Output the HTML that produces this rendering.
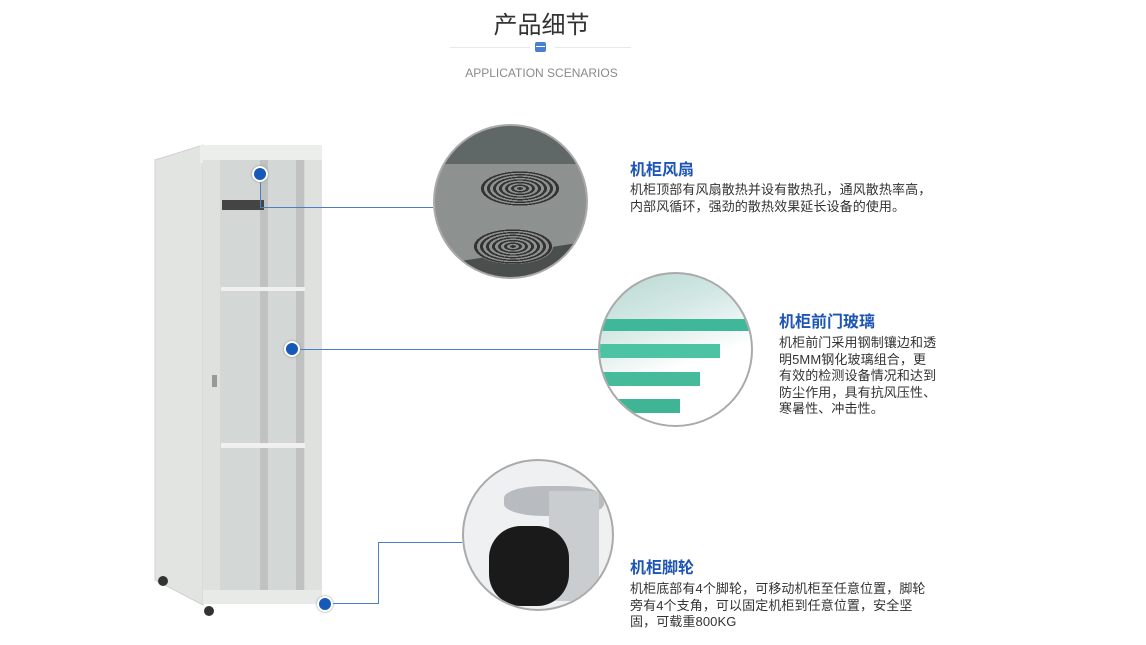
<!DOCTYPE html>
<html><head><meta charset="utf-8"><style>
body{margin:0;width:1146px;height:645px;background:#fff;position:relative;overflow:hidden;font-family:"Liberation Sans","Noto Sans CJK SC",sans-serif}
.a{position:absolute}
.t{color:#1d55b5;font-weight:bold;font-size:16px}
.p{color:#333;font-size:13px;line-height:16.5px;letter-spacing:0.1px}
.ln{background:#4a7fc8}
.dot{width:12px;height:12px;border-radius:50%;background:#1659b8;border:2px solid #fff;box-shadow:0 0 2px #888}
.circ{border-radius:50%;border:2px solid #aaa;overflow:hidden;box-sizing:border-box}
</style></head><body>
<div class="a" style="left:0;width:1083px;top:5px;text-align:center;font-size:24px;color:#333;font-family:'Noto Sans CJK SC',sans-serif">产品细节</div>
<div class="a" style="left:450px;top:47px;width:80px;height:1px;background:#e8e8e8"></div>
<div class="a" style="left:555px;top:47px;width:76px;height:1px;background:#e8e8e8"></div>
<div class="a" style="left:535px;top:42px;width:11px;height:10px;background:#4a7fd0;border-radius:2px"></div>
<div class="a" style="left:536px;top:46px;width:9px;height:1px;background:#fff"></div>
<div class="a" style="left:0;width:1083px;top:66px;text-align:center;font-size:12px;color:#8a8a8a">APPLICATION SCENARIOS</div>

<!-- cabinet -->
<svg class="a" style="left:150px;top:140px" width="180" height="485">
<polygon points="5,20 53,5 53,465 5,440" fill="#e2e4e2" stroke="#d0d0d0"/>
<rect x="50" y="5" width="122" height="18" fill="#eceeec"/>
</svg>
<div class="a" style="left:203px;top:160px;width:17px;height:430px;background:#dfe1df"></div>
<div class="a" style="left:305px;top:160px;width:17px;height:430px;background:#dfe1df"></div>
<div class="a" style="left:220px;top:160px;width:85px;height:430px;background:#d3d7d5"></div>
<div class="a" style="left:260px;top:160px;width:8px;height:430px;background:#bfc2c0"></div>
<div class="a" style="left:296px;top:160px;width:8px;height:430px;background:#bfc2c0"></div>
<div class="a" style="left:221px;top:287px;width:84px;height:4px;background:#f0f0f0"></div>
<div class="a" style="left:221px;top:443px;width:84px;height:5px;background:#f0f0f0"></div>
<div class="a" style="left:222px;top:200px;width:42px;height:10px;background:#444"></div>
<div class="a" style="left:203px;top:590px;width:119px;height:14px;background:#e8eae8"></div>
<div class="a" style="left:158px;top:576px;width:10px;height:10px;background:#333;border-radius:50%"></div>
<div class="a" style="left:204px;top:606px;width:10px;height:10px;background:#333;border-radius:50%"></div>
<div class="a" style="left:212px;top:375px;width:5px;height:12px;background:#999"></div>

<!-- connectors -->
<div class="a ln" style="left:260px;top:174px;width:1px;height:34px"></div>
<div class="a ln" style="left:260px;top:207px;width:173px;height:1px"></div>
<div class="a ln" style="left:292px;top:349px;width:308px;height:1px"></div>
<div class="a ln" style="left:325px;top:603px;width:54px;height:1px"></div>
<div class="a ln" style="left:378px;top:542px;width:1px;height:62px"></div>
<div class="a ln" style="left:378px;top:542px;width:84px;height:1px"></div>
<div class="a dot" style="left:252px;top:166px"></div>
<div class="a dot" style="left:284px;top:341px"></div>
<div class="a dot" style="left:317px;top:596px"></div>

<!-- fan circle -->
<div class="a circ" style="left:433px;top:124px;width:155px;height:155px;background:#8d9190">
<div class="a" style="left:0;top:0;width:155px;height:38px;background:#5f6867"></div>
<div class="a" style="left:0;top:115px;width:155px;height:40px;background:#4a4f4e;clip-path:polygon(0 60%,100% 0,100% 100%,0 100%)"></div>
<div class="a" style="left:45px;top:45px;width:80px;height:35px;border-radius:50%;background:repeating-radial-gradient(#333 0 3px,#8d9190 3px 6px)"></div>
<div class="a" style="left:38px;top:103px;width:80px;height:35px;border-radius:50%;background:repeating-radial-gradient(#333 0 3px,#8d9190 3px 6px)"></div>
</div>
<!-- glass circle -->
<div class="a circ" style="left:598px;top:272px;width:155px;height:155px;background:linear-gradient(160deg,#b8d8d2 0%,#d4e8e4 30%,#fff 60%)">
<div class="a" style="left:0;top:45px;width:150px;height:12px;background:#3fb89a"></div>
<div class="a" style="left:0;top:70px;width:120px;height:14px;background:#4cc3a2"></div>
<div class="a" style="left:0;top:98px;width:100px;height:14px;background:#45bb9c"></div>
<div class="a" style="left:0;top:125px;width:80px;height:14px;background:#40b596"></div>
</div>
<!-- caster circle -->
<div class="a circ" style="left:462px;top:459px;width:152px;height:152px;background:#eef0f2">
<div class="a" style="left:40px;top:25px;width:100px;height:30px;background:#b8bcc0;border-radius:40%"></div>
<div class="a" style="left:85px;top:30px;width:50px;height:110px;background:#c9cdd0"></div>
<div class="a" style="left:25px;top:65px;width:80px;height:80px;background:#1a1a1a;border-radius:40%"></div>
</div>

<div class="a t" style="left:630px;top:156px">机柜风扇</div>
<div class="a p" style="left:630px;top:182px">机柜顶部有风扇散热并设有散热孔，通风散热率高，<br>内部风循环，强劲的散热效果延长设备的使用。</div>
<div class="a t" style="left:779px;top:308px">机柜前门玻璃</div>
<div class="a p" style="left:779px;top:335px">机柜前门采用钢制镶边和透<br>明5MM钢化玻璃组合，更<br>有效的检测设备情况和达到<br>防尘作用，具有抗风压性、<br>寒暑性、冲击性。</div>
<div class="a t" style="left:630px;top:554px">机柜脚轮</div>
<div class="a p" style="left:630px;top:581px">机柜底部有4个脚轮，可移动机柜至任意位置，脚轮<br>旁有4个支角，可以固定机柜到任意位置，安全坚<br>固，可载重800KG</div>
</body></html>
